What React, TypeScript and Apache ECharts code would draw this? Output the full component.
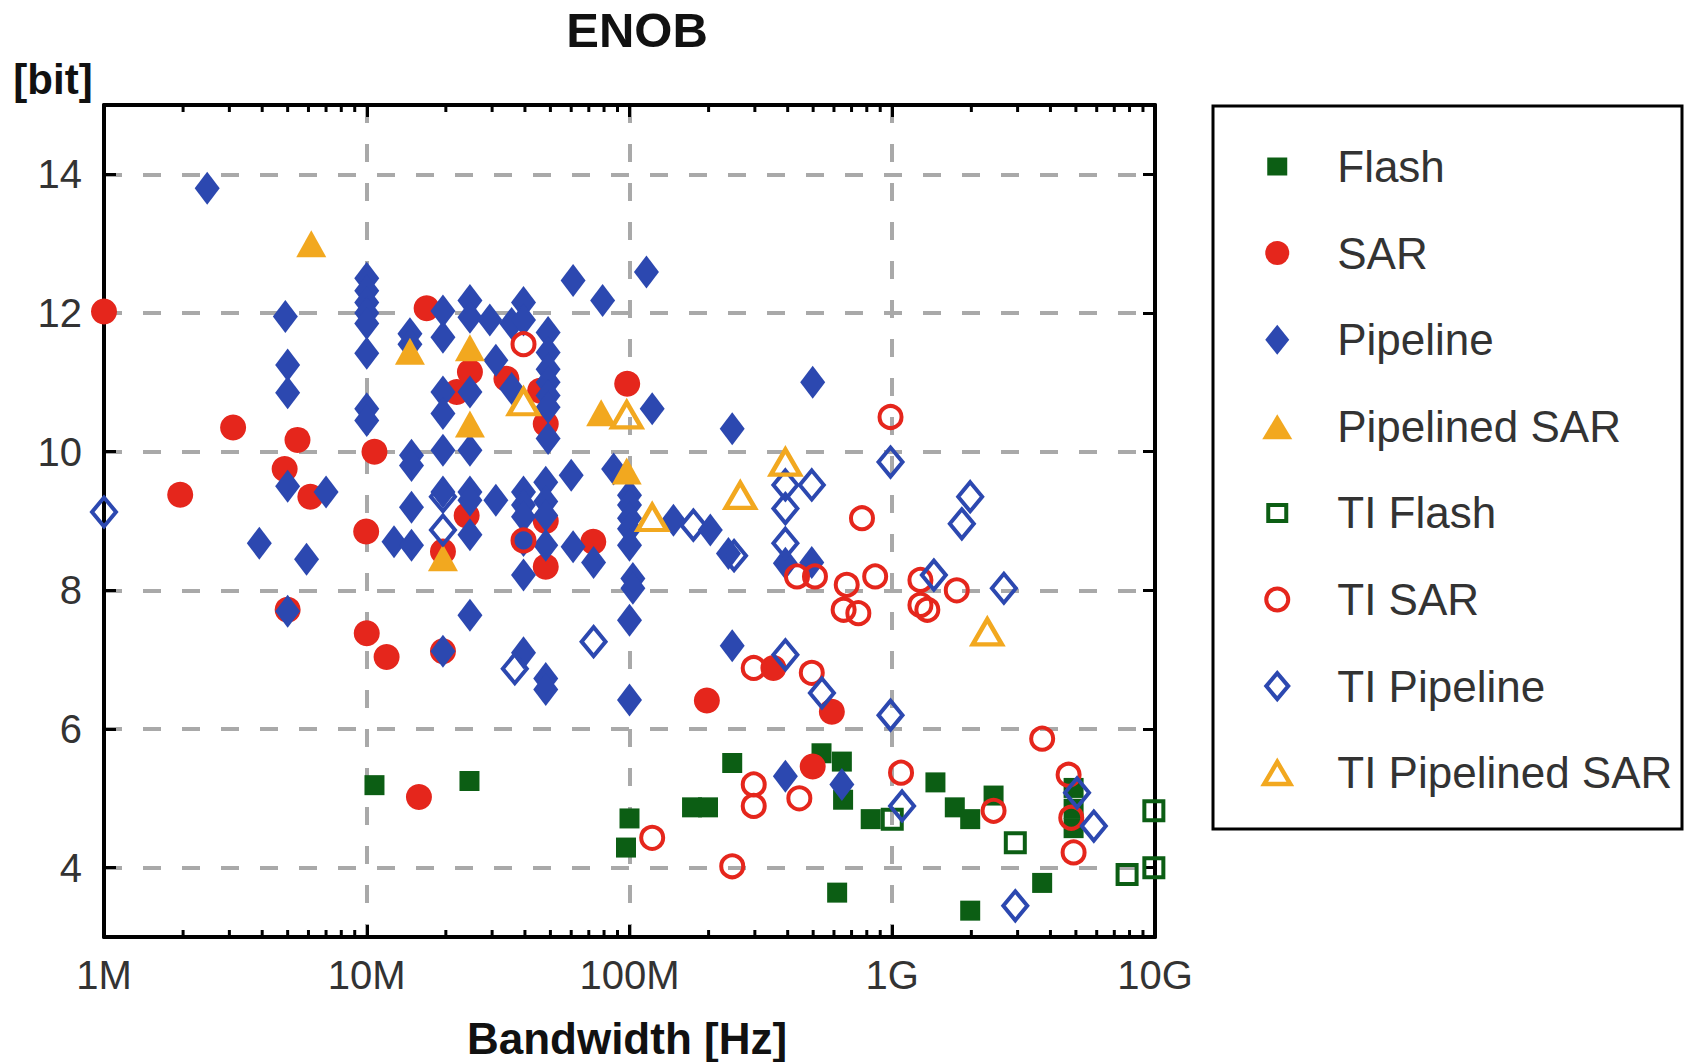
import React, { useEffect, useRef } from 'react';
import * as echarts from 'echarts';

// ---------- data (Bandwidth [Hz], ENOB [bit]) ----------
const seriesNames = ['Flash', 'SAR', 'Pipeline', 'Pipelined SAR', 'TI Flash', 'TI SAR', 'TI Pipeline', 'TI Pipelined SAR'];

const flash: number[][] = [
  [10.7e6, 5.19], [24.6e6, 5.25], [100e6, 4.71], [97e6, 4.29], [173e6, 4.87], [199e6, 4.87],
  [246e6, 5.51], [538e6, 5.65], [643e6, 5.53], [650e6, 4.98], [617e6, 3.64], [828e6, 4.7],
  [1.46e9, 5.23], [1.73e9, 4.87], [1.98e9, 4.7], [2.43e9, 5.04], [1.98e9, 3.38], [3.72e9, 3.78],
  [4.9e9, 5.15], [4.9e9, 4.85], [4.9e9, 4.57],
];

const sar: number[][] = [
  [1e6, 12.02], [1.95e6, 9.38], [3.1e6, 10.35], [5.45e6, 10.17], [4.87e6, 9.75], [6.1e6, 9.35],
  [5e6, 7.72], [9.95e6, 8.85], [10e6, 7.38], [11.9e6, 7.04], [10.7e6, 10.0], [15.8e6, 5.02],
  [16.9e6, 12.07], [19.5e6, 7.12], [19.5e6, 8.56], [22e6, 10.86], [24.7e6, 11.15], [24e6, 9.08],
  [34e6, 11.05], [45.7e6, 10.88], [48e6, 10.4], [48e6, 9.0], [48e6, 8.34], [72.8e6, 8.7],
  [98e6, 10.98], [197e6, 6.41], [353e6, 6.88], [498e6, 5.46], [589e6, 6.25],
];

const pipeline: number[][] = [
  [2.47e6, 13.8], [4.9e6, 11.95], [5e6, 11.25], [5e6, 10.85], [5e6, 9.5], [3.9e6, 8.68],
  [5.9e6, 8.45], [7e6, 9.42], [5e6, 7.7],
  [10e6, 12.5], [10e6, 12.32], [10e6, 12.15], [10e6, 12.0], [10e6, 11.85], [10e6, 11.42],
  [10e6, 10.62], [10e6, 10.45],
  [12.7e6, 8.7], [14.8e6, 8.65], [14.8e6, 9.2], [14.8e6, 9.95], [14.8e6, 9.8], [14.6e6, 11.7],
  [14.6e6, 11.55],
  [19.5e6, 12.03], [19.5e6, 11.65], [19.5e6, 10.86], [19.5e6, 10.55], [19.5e6, 10.02],
  [19.5e6, 9.42], [19.5e6, 7.12],
  [24.7e6, 12.18], [24.7e6, 11.94], [24.7e6, 10.86], [24.7e6, 10.02], [24.7e6, 9.42],
  [24.7e6, 9.3], [24.7e6, 8.8], [24.7e6, 7.64],
  [29.4e6, 11.9], [31e6, 9.3], [31e6, 11.32], [35.6e6, 11.85], [35.6e6, 10.91],
  [39.5e6, 12.15], [39.5e6, 11.9], [39.5e6, 9.42], [39.5e6, 9.23], [39.5e6, 9.06],
  [39.5e6, 8.72], [39.5e6, 8.22], [39.5e6, 7.1],
  [49e6, 11.72], [49e6, 11.43], [49e6, 11.19], [49e6, 11.0], [49e6, 10.81], [49e6, 10.64],
  [49e6, 10.19], [48e6, 9.56], [48e6, 9.28], [48e6, 9.08], [48e6, 8.65], [48e6, 6.73], [48e6, 6.57],
  [60e6, 9.66], [61e6, 12.47], [61e6, 8.63], [73e6, 8.4], [79e6, 12.18], [87e6, 9.75],
  [100e6, 9.37], [100e6, 9.23], [100e6, 9.04], [100e6, 8.89], [100e6, 8.65], [103e6, 8.17],
  [103e6, 8.03], [100e6, 7.57], [100e6, 6.42],
  [116e6, 12.59], [122e6, 10.62], [147e6, 9.01], [203e6, 8.87], [238e6, 8.53], [246e6, 10.33],
  [246e6, 7.2], [392e6, 8.39], [494e6, 8.4], [498e6, 11.0], [392e6, 5.32], [643e6, 5.2],
];

const pipelinedSar: number[][] = [
  [6.15e6, 13.0], [14.6e6, 11.45], [24.7e6, 11.5], [24.7e6, 10.4], [19.5e6, 8.47],
  [78e6, 10.56], [97.6e6, 9.72],
];

const tiFlash: number[][] = [
  [1e9, 4.7], [2.94e9, 4.36], [7.83e9, 3.9], [9.9e9, 4.82], [9.9e9, 4.0],
];

const tiSar: number[][] = [
  [39.5e6, 11.55], [39.5e6, 8.72], [122e6, 4.43], [246e6, 4.02], [297e6, 6.88], [297e6, 5.2],
  [297e6, 4.89], [434e6, 8.2], [443e6, 5.0], [494e6, 6.81], [508e6, 8.2], [653e6, 7.72],
  [671e6, 8.08], [743e6, 7.67], [767e6, 9.04], [861e6, 8.2], [985e6, 10.5], [1.08e9, 5.37],
  [1.28e9, 8.15], [1.28e9, 7.79], [1.36e9, 7.72], [1.76e9, 8.0], [2.43e9, 4.82], [3.72e9, 5.86],
  [4.69e9, 5.34], [4.8e9, 4.72], [4.9e9, 4.22],
];

const tiPipeline: number[][] = [
  [1e6, 9.13], [19.5e6, 9.35], [19.5e6, 8.87], [36.6e6, 6.87], [73e6, 7.26], [175e6, 8.94],
  [250e6, 8.5], [392e6, 9.52], [392e6, 9.18], [392e6, 8.68], [392e6, 7.07], [494e6, 9.52],
  [540e6, 6.52], [985e6, 9.85], [985e6, 6.2], [1.09e9, 4.89], [1.44e9, 8.22], [1.84e9, 8.96],
  [1.98e9, 9.35], [2.66e9, 8.03], [2.94e9, 3.45], [5.05e9, 5.08], [5.85e9, 4.6],
];

const tiPipelinedSar: number[][] = [
  [39.5e6, 10.72], [97.6e6, 10.53], [122e6, 9.05], [264e6, 9.37], [392e6, 9.85], [2.3e9, 7.4],
];

// ---------- axes ----------
const xMin = 1e6;
const xMax = 1e10;
const yMin = 3;
const yMax = 15;
const xTickExponents = [6, 7, 8, 9, 10];
const xTickLabels = ['1M', '10M', '100M', '1G', '10G'];
const yTicks = [4, 6, 8, 10, 12, 14];
const minorMultipliers = [2, 3, 4, 5, 6, 7, 8, 9];
const minorDecades = [1e6, 1e7, 1e8, 1e9];

// ---------- style ----------
const FONT = '"Liberation Sans", Arial, Helvetica, sans-serif';
const GREEN = '#0c5e14';
const RED = '#e5261c';
const BLUE = '#2c48b0';
const ORANGE = '#f2a81f';
const GRIDC = '#a9a9a9';
const CLEAR = 'rgba(0,0,0,0)';

function filled(name: string, data: number[][], symbol: string, size: any, color: string) {
  return {
    type: 'scatter', name, data, symbol, symbolSize: size, clip: false, silent: true,
    itemStyle: { color, opacity: 1 }, emphasis: { disabled: true },
  };
}
function hollow(name: string, data: number[][], symbol: string, size: any, color: string, bw: number) {
  return {
    type: 'scatter', name, data, symbol, symbolSize: size, clip: false, silent: true,
    itemStyle: { color: CLEAR, borderColor: color, borderWidth: bw, opacity: 1 }, emphasis: { disabled: true },
  };
}

// legend icons in a 40x40 frame (corner moves keep the frame size)
const F = 'path://M0,0 M40,40 ';
const legendItems = [
  { name: 'Flash', icon: F + 'M10,11 L30,11 L30,29 L10,29 Z', itemStyle: { color: GREEN, borderWidth: 0 } },
  { name: 'SAR', icon: F + 'M8,20 A12,12 0 1,1 32,20 A12,12 0 1,1 8,20 Z', itemStyle: { color: RED, borderWidth: 0 } },
  { name: 'Pipeline', icon: F + 'M20,5 L32,20 L20,35 L8,20 Z', itemStyle: { color: BLUE, borderWidth: 0 } },
  { name: 'Pipelined SAR', icon: F + 'M20,8 L35,33 L5,33 Z', itemStyle: { color: ORANGE, borderWidth: 0 } },
  { name: 'TI Flash', icon: F + 'M11,12 L29,12 L29,28 L11,28 Z', itemStyle: { color: CLEAR, borderColor: GREEN, borderWidth: 4 } },
  { name: 'TI SAR', icon: F + 'M9,20 A11,11 0 1,1 31,20 A11,11 0 1,1 9,20 Z', itemStyle: { color: CLEAR, borderColor: RED, borderWidth: 4 } },
  { name: 'TI Pipeline', icon: F + 'M20,7 L31,20 L20,33 L9,20 Z', itemStyle: { color: CLEAR, borderColor: BLUE, borderWidth: 4 } },
  { name: 'TI Pipelined SAR', icon: F + 'M20,9 L33,31 L7,31 Z', itemStyle: { color: CLEAR, borderColor: ORANGE, borderWidth: 4.5 } },
];

function fmtX(v: number) {
  const e = Math.round(Math.log10(v));
  const i = xTickExponents.indexOf(e);
  return i >= 0 ? xTickLabels[i] : '';
}

export default function App() {
  const ref = useRef<HTMLDivElement>(null);
  useEffect(() => {
    if (!ref.current) return;
    const chart = echarts.init(ref.current, undefined, { renderer: 'svg' });

    const minorTicks: number[][] = [];
    minorDecades.forEach((d) => minorMultipliers.forEach((m) => minorTicks.push([m * d, yMin])));

    const axisLineStyle = { color: '#000', width: 4 };
    const gridLine = { color: GRIDC, width: 4, type: [18, 21] };

    const option: any = {
      animation: false,
      backgroundColor: '#ffffff',
      grid: { left: 104, top: 105, width: 1051, height: 832, containLabel: false, outerBoundsMode: 'none' },
      xAxis: [
        {
          type: 'log', logBase: 10, min: xMin, max: xMax, position: 'bottom', gridIndex: 0,
          axisLine: { show: true, onZero: false, lineStyle: axisLineStyle },
          axisTick: { show: true, inside: true, length: 12, lineStyle: { color: '#000', width: 3 } },
          axisLabel: { show: true, margin: 18, fontSize: 40, fontFamily: FONT, color: '#333', formatter: fmtX },
          splitLine: { show: true, showMinLine: false, showMaxLine: false, lineStyle: gridLine },
          minorTick: { show: false }, minorSplitLine: { show: false },
        },
        {
          type: 'log', logBase: 10, min: xMin, max: xMax, position: 'top', gridIndex: 0,
          axisLine: { show: true, onZero: false, lineStyle: axisLineStyle },
          axisTick: { show: true, inside: true, length: 12, lineStyle: { color: '#000', width: 3 } },
          axisLabel: { show: false },
          splitLine: { show: false },
        },
      ],
      yAxis: [
        {
          type: 'value', min: yMin, max: yMax, position: 'left', gridIndex: 0,
          axisLine: { show: true, onZero: false, lineStyle: axisLineStyle },
          axisTick: { show: true, inside: true, length: 12, customValues: yTicks, lineStyle: { color: '#000', width: 3 } },
          axisLabel: { show: true, customValues: yTicks, margin: 22, fontSize: 40, fontFamily: FONT, color: '#333' },
          splitLine: { show: true, lineStyle: gridLine },
        },
        {
          type: 'value', min: yMin, max: yMax, position: 'right', gridIndex: 0,
          axisLine: { show: true, onZero: false, lineStyle: axisLineStyle },
          axisTick: { show: true, inside: true, length: 12, customValues: yTicks, lineStyle: { color: '#000', width: 3 } },
          axisLabel: { show: false, customValues: yTicks },
          splitLine: { show: false },
        },
      ],
      legend: {
        orient: 'vertical', left: 1255, top: 144.5, padding: 0, itemGap: 42.6,
        itemWidth: 40, itemHeight: 40, selectedMode: false,
        data: legendItems,
        formatter: (n: string) => `{t|${n}}`,
        textStyle: {
          fontSize: 44, fontFamily: FONT, color: '#333',
          rich: { t: { fontSize: 44, fontFamily: FONT, color: '#333', padding: [0, 0, 0, 35], lineHeight: 40 } },
        },
      },
      graphic: [
        { type: 'rect', z: 0, shape: { x: 1213, y: 106, width: 469, height: 723 }, style: { fill: CLEAR, stroke: '#000', lineWidth: 3 } },
        {
          type: 'text', x: 637, y: 30,
          style: { text: 'ENOB', font: `bold 49px ${FONT}`, fill: '#111', align: 'center', verticalAlign: 'middle', textAlign: 'center', textVerticalAlign: 'middle' },
        },
        {
          type: 'text', x: 53, y: 79,
          style: { text: '[bit]', font: `bold 42px ${FONT}`, fill: '#111', align: 'center', verticalAlign: 'middle', textAlign: 'center', textVerticalAlign: 'middle' },
        },
        {
          type: 'text', x: 627, y: 1038,
          style: { text: 'Bandwidth [Hz]', font: `bold 44px ${FONT}`, fill: '#111', align: 'center', verticalAlign: 'middle', textAlign: 'center', textVerticalAlign: 'middle' },
        },
      ],
      series: [
        filled('Flash', flash, 'rect', 20, GREEN),
        filled('SAR', sar, 'circle', 26, RED),
        filled('Pipeline', pipeline, 'diamond', [25, 33], BLUE),
        filled('Pipelined SAR', pipelinedSar, 'triangle', [30, 27], ORANGE),
        hollow('TI Flash', tiFlash, 'rect', 19, GREEN, 4),
        hollow('TI SAR', tiSar, 'circle', 22, RED, 4),
        hollow('TI Pipeline', tiPipeline, 'diamond', [24, 29], BLUE, 4),
        hollow('TI Pipelined SAR', tiPipelinedSar, 'triangle', [29, 25], ORANGE, 4.5),
        {
          type: 'custom', name: 'minorTicks', silent: true, clip: false, z: 5,
          data: minorTicks, encode: { x: 0, y: 1 },
          renderItem: (_p: any, api: any) => {
            const x = api.value(0);
            const b = api.coord([x, yMin]);
            const t = api.coord([x, yMax]);
            return {
              type: 'group',
              children: [
                { type: 'line', shape: { x1: b[0], y1: b[1], x2: b[0], y2: b[1] - 7 }, style: { stroke: '#000', lineWidth: 3 } },
                { type: 'line', shape: { x1: t[0], y1: t[1], x2: t[0], y2: t[1] + 7 }, style: { stroke: '#000', lineWidth: 3 } },
              ],
            };
          },
        },
      ],
    };
    chart.setOption(option);
    return () => chart.dispose();
  }, []);

  return (
    <div
      ref={ref}
      style={{ position: 'absolute', left: 0, top: 0, width: 1684, height: 1062, background: '#fff' }}
    />
  );
}
